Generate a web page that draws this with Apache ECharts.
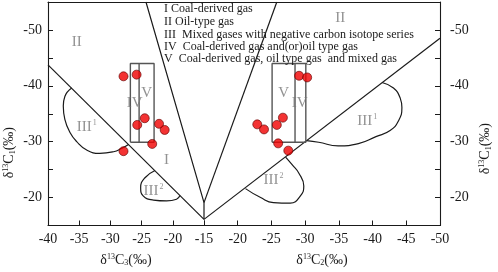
<!DOCTYPE html>
<html>
<head>
<meta charset="utf-8">
<script src="https://cdn.jsdelivr.net/npm/echarts@6.0.0/dist/echarts.min.js"></script>
<style>
  html, body { margin: 0; padding: 0; background: #fff; }
  #chart { width: 498px; height: 272px; }
</style>
</head>
<body>
<div id="chart"></div>
<script>
// 左半部分: δ13C3 - δ13C1, 右半部分: δ13C2 - δ13C1
const c3Range = [-40, -15];
const c2Range = [-50, -15];
const c1Range = [-55, -15];

// 分区线
const leftDiag = [[-40, -43.75], [-15, -16.1]];
const leftVLine = [[-24.3, -55], [-15, -19.1], [-15, -16.1]];
const rightVLine = [[-25.8, -55], [-15, -19.1]];
const rightDiag = [[-15, -16.1], [-50, -48.5]];

// III 区曲线
const leftIII1 = [[-36.2, -39.6], [-37.3, -38.1], [-37.55, -36.4], [-37.3, -34.0], [-36.5, -31.7],
  [-35.4, -30.0], [-33.8, -28.5], [-31.7, -27.9], [-29.5, -28.2], [-28.2, -28.8], [-27.1, -29.5]];
const leftIII2 = [[-22.85, -24.85], [-24.5, -23.5], [-25.15, -21.75], [-24.75, -20.3], [-23.1, -19.55],
  [-21.0, -19.4], [-19.4, -19.7], [-18.85, -20.35]];
const rightIII1 = [[-41.4, -40.6], [-43.1, -39.6], [-44.1, -37.8], [-44.35, -36.1], [-43.85, -33.75],
  [-42.6, -32.0], [-40.5, -30.9], [-37.9, -29.65], [-34.9, -29.25], [-32.0, -29.9], [-30.2, -30.2]];
const rightIII2 = [[-21.15, -21.6], [-23.4, -20.0], [-25.3, -19.1], [-27.8, -19.0], [-29.3, -20.3],
  [-29.8, -22.05], [-29.05, -24.4], [-28.1, -25.85], [-27.1, -27.25]];

// IV / V 方框
const leftBox = [[-26.8, -29.9], [-26.8, -44], [-23, -44], [-23, -29.9], [-26.8, -29.9]];
const leftBoxDiv = [[-25.4, -29.9], [-25.4, -44]];
const rightBox = [[-25.1, -29.9], [-25.1, -44], [-30.1, -44], [-30.1, -29.9], [-25.1, -29.9]];
const rightBoxDiv = [[-28.5, -29.9], [-28.5, -44]];

// 样品点
const leftSamples = [[-27.9, -41.7], [-25.8, -42.0], [-24.5, -34.2], [-25.7, -33.0],
  [-22.2, -33.2], [-21.3, -32.1], [-23.3, -29.6], [-27.9, -28.3]];
const rightSamples = [[-29.1, -41.8], [-30.3, -41.5], [-26.7, -34.3], [-25.8, -33.0],
  [-22.9, -33.1], [-23.9, -32.2], [-26.0, -29.7], [-27.5, -28.4]];

// 区域标注
const leftZoneNames = ['II', 'III{sup|1}', 'IV', 'V', 'I', 'III{sup|2}'];
const leftZonePos = [[-35.4, -47.8], [-33.8, -32.6], [-26.1, -37.0], [-24.2, -38.7], [-21.0, -26.7], [-23.1, -21.2]];
const rightZoneNames = ['II', 'V', 'IV', 'III{sup|1}', 'III{sup|2}'];
const rightZonePos = [[-35.2, -52.2], [-26.8, -38.7], [-29.2, -37.0], [-39.2, -33.75], [-25.3, -23.2]];

const legendLines = [
  'I Coal-derived gas',
  'II Oil-type gas',
  'III  Mixed gases with negative carbon isotope series',
  'IV  Coal-derived gas and(or)oil type gas',
  'V  Coal-derived gas, oil type gas  and mixed gas'
];

const FONT = 'Liberation Serif';
const INK = '#1a1a1a';

const chart = echarts.init(document.getElementById('chart'));

const supRich = {
  sup: { fontSize: 8, fontFamily: FONT, color: '#777', padding: [0, 0, 8, 1] }
};
const nameRich = {
  sup: { fontSize: 8, fontFamily: FONT, color: INK, padding: [0, 0, 7, 0] },
  sub: { fontSize: 8, fontFamily: FONT, color: INK, padding: [6, 0, 0, 0] }
};

function lineSeries(data, side, smooth, color, width) {
  return {
    type: 'line',
    xAxisIndex: side,
    yAxisIndex: side,
    data: data,
    smooth: smooth ? 0.5 : false,
    showSymbol: false,
    silent: true,
    lineStyle: { color: color || INK, width: width || 1.2 },
    z: 2
  };
}

function zoneSeries(names, pos, side) {
  return {
    type: 'scatter',
    xAxisIndex: side,
    yAxisIndex: side,
    symbolSize: 0,
    silent: true,
    data: names.map((n, i) => ({ name: n, value: pos[i] })),
    label: {
      show: true,
      position: 'inside',
      formatter: p => p.name,
      fontFamily: FONT,
      fontSize: 15,
      color: '#777',
      rich: supRich
    },
    z: 3
  };
}

function sampleSeries(data, side) {
  return {
    type: 'scatter',
    xAxisIndex: side,
    yAxisIndex: side,
    data: data,
    symbolSize: 9,
    itemStyle: { color: '#f00000', borderColor: '#600000', borderWidth: 0.8 },
    z: 5
  };
}

const yLabelFmt = v => (v % 10 === 0 && v > -55 && v < -15) ? String(v) : '';

const baseAxisStyle = {
  axisLine: { show: true, lineStyle: { color: INK, width: 1.1 } },
  axisTick: { show: true, inside: true, length: 5, lineStyle: { color: INK } },
  splitLine: { show: false },
  axisLabel: { fontFamily: FONT, fontSize: 14, color: INK }
};

const option = {
  animation: false,
  backgroundColor: '#fff',
  grid: [
    { left: 48, right: 294, top: 2, bottom: 43 },
    { left: 204, right: 58, top: 2, bottom: 43 }
  ],
  xAxis: [
    Object.assign({}, baseAxisStyle, {
      type: 'value', gridIndex: 0, position: 'bottom',
      min: c3Range[0], max: c3Range[1], interval: 5,
      axisLabel: Object.assign({}, baseAxisStyle.axisLabel, { margin: 7 }),
      name: 'δ{sup|13}C{sub|3}(‰)', nameLocation: 'middle', nameGap: 27,
      nameTextStyle: { fontFamily: FONT, fontSize: 14, color: INK, rich: nameRich }
    }),
    Object.assign({}, baseAxisStyle, {
      type: 'value', gridIndex: 1, position: 'bottom', inverse: true,
      min: c2Range[0], max: c2Range[1], interval: 5,
      axisLabel: Object.assign({}, baseAxisStyle.axisLabel, {
        margin: 7, formatter: v => (v === -15 ? '' : String(v))
      }),
      name: 'δ{sup|13}C{sub|2}(‰)', nameLocation: 'middle', nameGap: 27,
      nameTextStyle: { fontFamily: FONT, fontSize: 14, color: INK, rich: nameRich }
    }),
    {
      type: 'value', gridIndex: 0, position: 'top', min: c3Range[0], max: c3Range[1],
      axisLine: { show: true, lineStyle: { color: INK, width: 1.1 } },
      axisTick: { show: false }, axisLabel: { show: false }, splitLine: { show: false }
    },
    {
      type: 'value', gridIndex: 1, position: 'top', inverse: true, min: c2Range[0], max: c2Range[1],
      axisLine: { show: true, lineStyle: { color: INK, width: 1.1 } },
      axisTick: { show: false }, axisLabel: { show: false }, splitLine: { show: false }
    }
  ],
  yAxis: [
    Object.assign({}, baseAxisStyle, {
      type: 'value', gridIndex: 0, position: 'left', inverse: true,
      min: c1Range[0], max: c1Range[1], interval: 5,
      axisLabel: Object.assign({}, baseAxisStyle.axisLabel, { margin: 6, formatter: yLabelFmt })
    }),
    Object.assign({}, baseAxisStyle, {
      type: 'value', gridIndex: 1, position: 'right', inverse: true,
      min: c1Range[0], max: c1Range[1], interval: 5,
      axisLabel: Object.assign({}, baseAxisStyle.axisLabel, { margin: 10, formatter: yLabelFmt })
    })
  ],
  graphic: [
    {
      type: 'text', left: 2, top: 127, rotation: Math.PI / 2, origin: [0, 0],
      style: {
        text: 'δ{sup|13}C{sub|1}(‰)', fontFamily: FONT, fontSize: 14, fill: INK,
        align: 'center', verticalAlign: 'middle', rich: nameRich
      }
    },
    {
      type: 'text', left: 478, top: 123, rotation: Math.PI / 2, origin: [0, 0],
      style: {
        text: 'δ{sup|13}C{sub|1}(‰)', fontFamily: FONT, fontSize: 14, fill: INK,
        align: 'center', verticalAlign: 'middle', rich: nameRich
      }
    }
  ].concat(legendLines.map((t, i) => ({
    type: 'text',
    left: 164,
    top: [3, 16, 29, 41, 53][i],
    z: 10,
    style: { text: t, fontFamily: FONT, fontSize: 12, fill: INK }
  }))),
  series: [
    lineSeries(leftDiag, 0),
    lineSeries(leftVLine, 0),
    lineSeries(rightVLine, 1),
    lineSeries(rightDiag, 1),
    lineSeries(leftIII1, 0, true),
    lineSeries(leftIII2, 0, true),
    lineSeries(rightIII1, 1, true),
    lineSeries(rightIII2, 1, true),
    lineSeries(leftBox, 0, false, '#555', 1.4),
    lineSeries(leftBoxDiv, 0, false, '#555', 1.4),
    lineSeries(rightBox, 1, false, '#555', 1.4),
    lineSeries(rightBoxDiv, 1, false, '#555', 1.4),
    zoneSeries(leftZoneNames, leftZonePos, 0),
    zoneSeries(rightZoneNames, rightZonePos, 1),
    sampleSeries(leftSamples, 0),
    sampleSeries(rightSamples, 1)
  ]
};

chart.setOption(option);
</script>
</body>
</html>
